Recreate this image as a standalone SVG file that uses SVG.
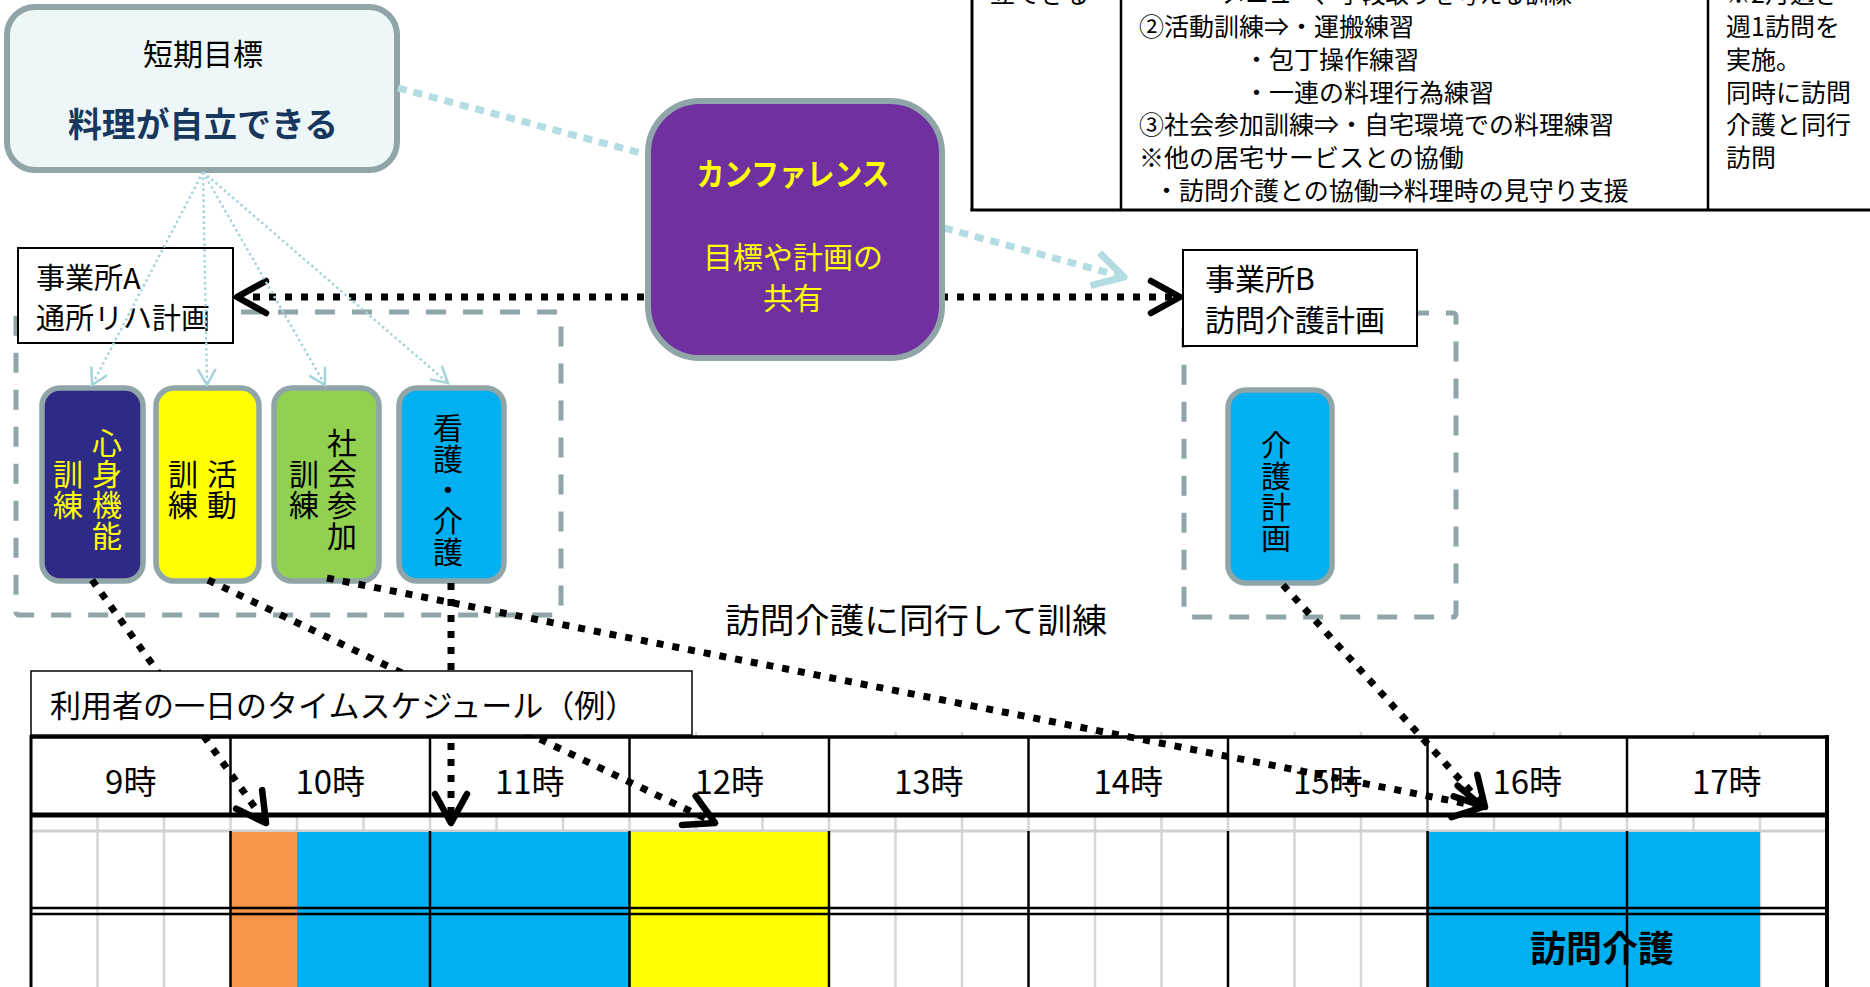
<svg xmlns="http://www.w3.org/2000/svg" width="1870" height="987" viewBox="0 0 1870 987">
<style>
text{font-family:"Noto Sans CJK JP","Noto Sans",sans-serif;fill:#000}
.t25{font-size:25px}
.node{stroke:#8fa5a8;stroke-width:5.5}
.vt{writing-mode:vertical-rl;font-size:30px;letter-spacing:1px}
.dash{fill:none;stroke:#8fa5a8;stroke-width:5;stroke-dasharray:20 17}
.bdot{fill:none;stroke:#000;stroke-width:7;stroke-dasharray:7 9}
.cdot{fill:none;stroke:#b4dde3;stroke-width:7;stroke-dasharray:9 7}
.fan{fill:none;stroke:#a6d4db;stroke-width:2.5;stroke-dasharray:2.5 3}
.minor{stroke:#d6d6d6;stroke-width:2.5}
.hour{stroke:#000;stroke-width:2.5}
.hl{font-size:33px}
</style>
<defs>
<marker id="ahBlack" viewBox="0 0 40 40" refX="34" refY="20" markerWidth="40" markerHeight="40" markerUnits="userSpaceOnUse" orient="auto-start-reverse">
<path d="M5,4 L34,20 L5,36" fill="none" stroke="#000" stroke-width="6.5" stroke-linecap="round" stroke-linejoin="round"/>
</marker>
<marker id="ahCyan" viewBox="0 0 44 44" refX="36" refY="22" markerWidth="44" markerHeight="44" markerUnits="userSpaceOnUse" orient="auto">
<path d="M6,5 L36,22 L6,39" fill="none" stroke="#b4dde3" stroke-width="7" stroke-linejoin="round"/>
</marker>
<marker id="ahThin" viewBox="0 0 24 24" refX="19" refY="12" markerWidth="24" markerHeight="24" markerUnits="userSpaceOnUse" orient="auto">
<path d="M3,3 L19,12 L3,21" fill="none" stroke="#a6d4db" stroke-width="2.5"/>
</marker>
</defs>

<rect width="1870" height="987" fill="#fff"/>

<!-- plan table (top right, cut off by the top edge as in the reference) -->
<g id="plan-table">
<line x1="972" y1="0" x2="972" y2="211" stroke="#000" stroke-width="3"/>
<line x1="1121" y1="0" x2="1121" y2="211" stroke="#000" stroke-width="2.5"/>
<line x1="1708" y1="0" x2="1708" y2="211" stroke="#000" stroke-width="2.5"/>
<line x1="970.5" y1="210" x2="1870" y2="210" stroke="#000" stroke-width="3"/>
<text class="t25" x="990" y="-7.8" dominant-baseline="central">立できる</text>
<text class="t25" dominant-baseline="central">
<tspan x="1222" y="-7.8" textLength="350" lengthAdjust="spacingAndGlyphs">メニュー、手段取りを考える訓練</tspan>
<tspan x="1139" y="25">②活動訓練⇒・運搬練習</tspan>
<tspan x="1244" y="57.8">・包丁操作練習</tspan>
<tspan x="1244" y="90.6">・一連の料理行為練習</tspan>
<tspan x="1139" y="123.4">③社会参加訓練⇒・自宅環境での料理練習</tspan>
<tspan x="1139" y="156.2">※他の居宅サービスとの協働</tspan>
<tspan x="1154" y="189">・訪問介護との協働⇒料理時の見守り支援</tspan>
</text>
<text class="t25" dominant-baseline="central">
<tspan x="1726" y="-7.8">※2月過ぎ</tspan>
<tspan x="1726" y="25">週1訪問を</tspan>
<tspan x="1726" y="57.8">実施。</tspan>
<tspan x="1726" y="90.6">同時に訪問</tspan>
<tspan x="1726" y="123.4">介護と同行</tspan>
<tspan x="1726" y="156.2">訪問</tspan>
</text>
</g>

<!-- time table -->
<g id="timetable">
<rect x="31" y="737" width="1796" height="250" fill="#fff"/>
<g class="minor">
<line x1="97.5" y1="732" x2="97.5" y2="737"/><line x1="164" y1="732" x2="164" y2="737"/>
<line x1="297" y1="732" x2="297" y2="737"/><line x1="363.5" y1="732" x2="363.5" y2="737"/>
<line x1="496.5" y1="732" x2="496.5" y2="737"/><line x1="563" y1="732" x2="563" y2="737"/>
<line x1="696" y1="732" x2="696" y2="737"/><line x1="762.5" y1="732" x2="762.5" y2="737"/>
<line x1="895.5" y1="732" x2="895.5" y2="737"/><line x1="962" y1="732" x2="962" y2="737"/>
<line x1="1095" y1="732" x2="1095" y2="737"/><line x1="1161.5" y1="732" x2="1161.5" y2="737"/>
<line x1="1294.5" y1="732" x2="1294.5" y2="737"/><line x1="1361" y1="732" x2="1361" y2="737"/>
<line x1="1494" y1="732" x2="1494" y2="737"/><line x1="1560.5" y1="732" x2="1560.5" y2="737"/>
<line x1="1693.5" y1="732" x2="1693.5" y2="737"/><line x1="1760" y1="732" x2="1760" y2="737"/>
<line x1="97.5" y1="817" x2="97.5" y2="987"/><line x1="164" y1="817" x2="164" y2="987"/>
<line x1="297" y1="817" x2="297" y2="987"/><line x1="363.5" y1="817" x2="363.5" y2="987"/>
<line x1="496.5" y1="817" x2="496.5" y2="987"/><line x1="563" y1="817" x2="563" y2="987"/>
<line x1="696" y1="817" x2="696" y2="987"/><line x1="762.5" y1="817" x2="762.5" y2="987"/>
<line x1="895.5" y1="817" x2="895.5" y2="987"/><line x1="962" y1="817" x2="962" y2="987"/>
<line x1="1095" y1="817" x2="1095" y2="987"/><line x1="1161.5" y1="817" x2="1161.5" y2="987"/>
<line x1="1294.5" y1="817" x2="1294.5" y2="987"/><line x1="1361" y1="817" x2="1361" y2="987"/>
<line x1="1494" y1="817" x2="1494" y2="987"/><line x1="1560.5" y1="817" x2="1560.5" y2="987"/>
<line x1="1693.5" y1="817" x2="1693.5" y2="987"/><line x1="1760" y1="817" x2="1760" y2="987"/>
<line x1="230.5" y1="817" x2="230.5" y2="831"/><line x1="430" y1="817" x2="430" y2="831"/>
<line x1="629.5" y1="817" x2="629.5" y2="831"/><line x1="829" y1="817" x2="829" y2="831"/>
<line x1="1028.5" y1="817" x2="1028.5" y2="831"/><line x1="1228" y1="817" x2="1228" y2="831"/>
<line x1="1427.5" y1="817" x2="1427.5" y2="831"/><line x1="1627" y1="817" x2="1627" y2="831"/>
</g>
<line x1="31" y1="831" x2="1827" y2="831" stroke="#d0d0d0" stroke-width="3"/>
<rect x="230.5" y="832" width="66.5" height="155" fill="#f79646"/>
<rect x="297" y="832" width="332.5" height="155" fill="#00b0f0"/>
<rect x="629.5" y="832" width="199.5" height="155" fill="#ffff00"/>
<rect x="1427.5" y="832" width="332.5" height="155" fill="#00b0f0"/>
<g class="hour">
<line x1="230.5" y1="737" x2="230.5" y2="817"/><line x1="430" y1="737" x2="430" y2="817"/>
<line x1="629.5" y1="737" x2="629.5" y2="817"/><line x1="829" y1="737" x2="829" y2="817"/>
<line x1="1028.5" y1="737" x2="1028.5" y2="817"/><line x1="1228" y1="737" x2="1228" y2="817"/>
<line x1="1427.5" y1="737" x2="1427.5" y2="817"/><line x1="1627" y1="737" x2="1627" y2="817"/>
<line x1="230.5" y1="831" x2="230.5" y2="987"/><line x1="430" y1="831" x2="430" y2="987"/>
<line x1="629.5" y1="831" x2="629.5" y2="987"/><line x1="829" y1="831" x2="829" y2="987"/>
<line x1="1028.5" y1="831" x2="1028.5" y2="987"/><line x1="1228" y1="831" x2="1228" y2="987"/>
<line x1="1427.5" y1="831" x2="1427.5" y2="987"/><line x1="1627" y1="831" x2="1627" y2="987"/>
</g>
<line x1="31" y1="737" x2="1829" y2="737" stroke="#000" stroke-width="3.5"/>
<line x1="31" y1="815" x2="1829" y2="815" stroke="#000" stroke-width="5"/>
<line x1="31" y1="908" x2="1829" y2="908" stroke="#000" stroke-width="2.5"/>
<line x1="31" y1="914" x2="1829" y2="914" stroke="#000" stroke-width="2.5"/>
<line x1="31" y1="735" x2="31" y2="987" stroke="#000" stroke-width="3"/>
<line x1="1827" y1="735" x2="1827" y2="987" stroke="#000" stroke-width="4"/>
<g class="hl" text-anchor="middle" dominant-baseline="central">
<text x="130.75" y="780">9時</text>
<text x="330.25" y="780">10時</text>
<text x="529.75" y="780">11時</text>
<text x="729.25" y="780">12時</text>
<text x="928.75" y="780">13時</text>
<text x="1128.25" y="780">14時</text>
<text x="1327.75" y="780">15時</text>
<text x="1527.25" y="780">16時</text>
<text x="1726.75" y="780">17時</text>
</g>
<text x="1602" y="946" font-size="36" font-weight="bold" text-anchor="middle" dominant-baseline="central">訪問介護</text>
</g>

<!-- group frames -->
<rect id="frame-a" class="dash" x="16" y="312" width="545" height="303" rx="3"/>
<rect id="frame-b" class="dash" x="1184" y="313" width="272" height="304" rx="3"/>

<g id="office-a">
<rect x="18" y="248" width="215" height="95" fill="#fff" stroke="#000" stroke-width="2"/>
<text font-size="29" dominant-baseline="central"><tspan x="36" y="276">事業所A</tspan><tspan x="36" y="316">通所リハ計画</tspan></text>
</g>

<g id="office-b">
<rect x="1183" y="250" width="234" height="96" fill="#fff" stroke="#000" stroke-width="2"/>
<text font-size="30" dominant-baseline="central"><tspan x="1205" y="277">事業所B</tspan><tspan x="1205" y="318">訪問介護計画</tspan></text>
</g>

<g id="node-shinshin">
<rect class="node" x="42" y="388" width="101" height="193" rx="18" fill="#2e2b87"/>
<text class="vt" x="107" y="490" text-anchor="middle" style="fill:#ffff00">心身機能</text>
<text class="vt" x="68" y="490" text-anchor="middle" style="fill:#ffff00">訓練</text>
</g>
<g id="node-katsudo">
<rect class="node" x="156" y="388" width="103" height="193" rx="18" fill="#ffff00"/>
<text class="vt" x="222" y="490" text-anchor="middle">活動</text>
<text class="vt" x="183" y="490" text-anchor="middle">訓練</text>
</g>
<g id="node-shakai">
<rect class="node" x="274" y="388" width="105" height="193" rx="18" fill="#92d050"/>
<text class="vt" x="342" y="490" text-anchor="middle">社会参加</text>
<text class="vt" x="304" y="490" text-anchor="middle">訓練</text>
</g>
<g id="node-kango">
<rect class="node" x="399" y="388" width="105" height="193" rx="18" fill="#00b0f0"/>
<text class="vt" x="448" y="490" text-anchor="middle">看護・介護</text>
</g>
<g id="node-kaigo">
<rect class="node" x="1228" y="390" width="104" height="193" rx="18" fill="#00b0f0"/>
<text class="vt" x="1276" y="492" text-anchor="middle">介護計画</text>
</g>

<g id="goal">
<rect x="7" y="7" width="390" height="163" rx="28" fill="#eef7f7" stroke="#8fa5a8" stroke-width="6"/>
<text x="203" y="52" font-size="30" text-anchor="middle" dominant-baseline="central">短期目標</text>
<text x="203" y="122" font-size="34" font-weight="bold" text-anchor="middle" dominant-baseline="central" style="fill:#17375e" textLength="270" lengthAdjust="spacingAndGlyphs">料理が自立できる</text>
</g>

<g id="connectors">
<line class="cdot" x1="398" y1="88" x2="648" y2="155"/>
<line class="cdot" x1="944" y1="228" x2="1124" y2="277" marker-end="url(#ahCyan)"/>
<line class="bdot" x1="237" y1="297" x2="1180" y2="297" marker-start="url(#ahBlack)" marker-end="url(#ahBlack)"/>
<line class="fan" x1="203" y1="172" x2="92" y2="385" marker-end="url(#ahThin)"/>
<line class="fan" x1="203" y1="172" x2="207" y2="385" marker-end="url(#ahThin)"/>
<line class="fan" x1="203" y1="172" x2="325" y2="385" marker-end="url(#ahThin)"/>
<line class="fan" x1="203" y1="172" x2="448" y2="383" marker-end="url(#ahThin)"/>
<line class="bdot" x1="92" y1="580" x2="266" y2="823" marker-end="url(#ahBlack)"/>
<line class="bdot" x1="208" y1="580" x2="715" y2="823" marker-end="url(#ahBlack)"/>
<line class="bdot" x1="327" y1="578" x2="1483" y2="807" marker-end="url(#ahBlack)"/>
<line class="bdot" x1="451" y1="583" x2="451" y2="823" marker-end="url(#ahBlack)"/>
<line class="bdot" x1="1283" y1="585" x2="1485" y2="807" marker-end="url(#ahBlack)"/>
</g>

<g id="conference">
<rect x="648" y="101" width="294" height="257" rx="52" fill="#7030a0" stroke="#8fa5a8" stroke-width="6"/>
<text x="793" y="171" font-size="31" font-weight="bold" text-anchor="middle" dominant-baseline="central" style="fill:#ffff00" textLength="193" lengthAdjust="spacingAndGlyphs">カンファレンス</text>
<text font-size="30" text-anchor="middle" dominant-baseline="central" style="fill:#ffff00"><tspan x="793" y="255">目標や計画の</tspan><tspan x="793" y="296">共有</tspan></text>
</g>

<g id="schedule-title">
<rect x="31" y="671" width="661" height="64" fill="#fff" stroke="#000" stroke-width="1.5"/>
<text x="50" y="703" font-size="31" dominant-baseline="central">利用者の一日のタイムスケジュール（例）</text>
</g>

<g id="label-doukou">
<text x="725" y="618" font-size="34" dominant-baseline="central" textLength="382" lengthAdjust="spacingAndGlyphs">訪問介護に同行して訓練</text>
</g>
</svg>
